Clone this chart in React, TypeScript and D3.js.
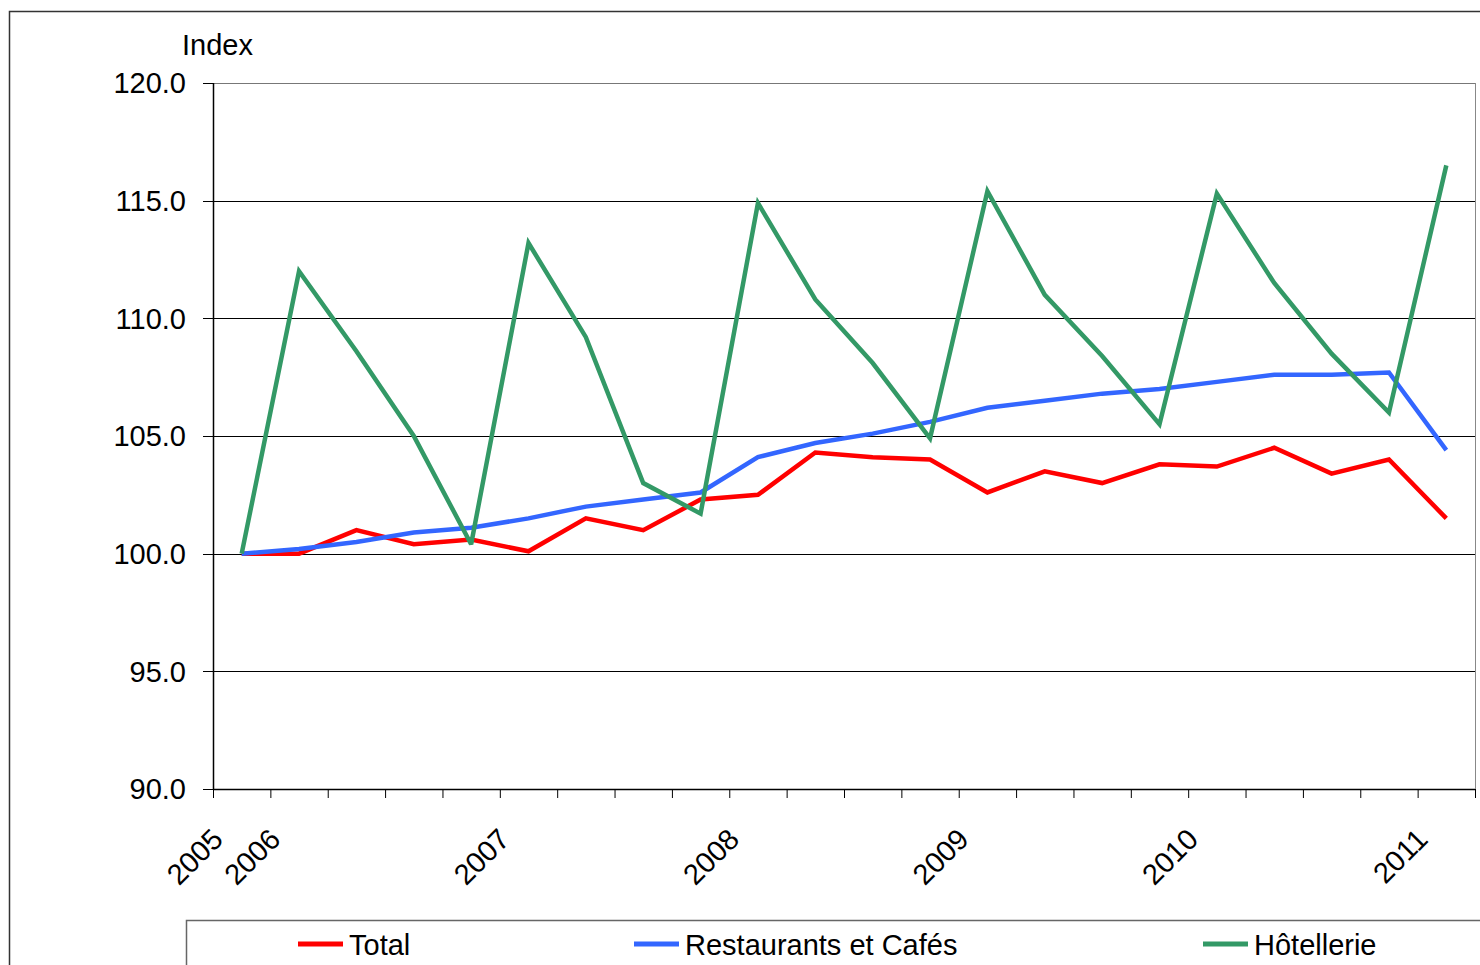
import React from "react";
import * as d3 from "d3";

const categories = ["2005", "2006", "", "", "", "2007", "", "", "", "2008", "", "", "", "2009", "", "", "", "2010", "", "", "", "2011"];
const totalValues = [100.0, 100.0, 101.0, 100.4, 100.6, 100.1, 101.5, 101.0, 102.3, 102.5, 104.3, 104.1, 104.0, 102.6, 103.5, 103.0, 103.8, 103.7, 104.5, 103.4, 104.0, 101.5];
const restaurantValues = [100.0, 100.2, 100.5, 100.9, 101.1, 101.5, 102.0, 102.3, 102.6, 104.1, 104.7, 105.1, 105.6, 106.2, 106.5, 106.8, 107.0, 107.3, 107.6, 107.6, 107.7, 104.4];
const hotelValues = [100.0, 112.0, 108.6, 105.0, 100.4, 113.2, 109.2, 103.0, 101.7, 114.9, 110.8, 108.1, 104.9, 115.4, 111.0, 108.4, 105.5, 115.3, 111.5, 108.5, 106.0, 116.5];
const yTicks = [90, 95, 100, 105, 110, 115, 120];
const seriesNames = ["Total", "Restaurants et Cafés", "Hôtellerie"];
const seriesColors = ["#FF0000", "#3366FF", "#339966"];

const FONT = "'Liberation Sans', Arial, sans-serif";

export default function App() {
  const W = 1480, H = 965;
  const left = 213, right = 1475, top = 83, bottom = 789;
  const idx = categories.map((_, i) => i);
  const x = d3.scaleBand<number>().domain(idx).range([left, right]).paddingInner(0).paddingOuter(0);
  const y = d3.scaleLinear().domain([90, 120]).range([bottom, top]);
  const cx = (i: number) => (x(i) as number) + x.bandwidth() / 2;
  const line = d3.line<number>().x((_, i) => cx(i)).y((d) => y(d));
  const series = [totalValues, restaurantValues, hotelValues];
  const boundaries = d3.range(categories.length + 1).map((i) => left + i * x.bandwidth());
  const legendX = [298, 634, 1203];

  return (
    <svg width={W} height={H} style={{ position: "absolute", left: 0, top: 0, background: "#fff" }} fontFamily={FONT}>
      <rect x={0} y={0} width={W} height={H} fill="#fff" />
      {/* outer frame */}
      <path d={`M9.5,${H + 5} V11.5 H${W + 5}`} fill="none" stroke="#333" strokeWidth={1.5} />
      {/* gridlines */}
      {yTicks.map((t) => (
        <line key={t} x1={left} x2={right} y1={Math.round(y(t)) + 0.5} y2={Math.round(y(t)) + 0.5} stroke={t === 120 ? "#777" : "#000"} strokeWidth={1} />
      ))}
      {/* right border */}
      <line x1={right + 0.5} x2={right + 0.5} y1={top} y2={bottom} stroke="#888" strokeWidth={1} />
      {/* y axis */}
      <line x1={left + 0.5} x2={left + 0.5} y1={top} y2={bottom + 1} stroke="#000" strokeWidth={1.5} />
      {yTicks.map((t) => (
        <g key={"yt" + t}>
          <line x1={left - 10} x2={left} y1={Math.round(y(t)) + 0.5} y2={Math.round(y(t)) + 0.5} stroke="#000" strokeWidth={1} />
          <text x={186} y={y(t)} dy="0.36em" textAnchor="end" fontSize={29} fill="#000">
            {t.toFixed(1)}
          </text>
        </g>
      ))}
      <text x={182} y={55} fontSize={29} fill="#000">Index</text>
      {/* x axis */}
      <line x1={left} x2={right} y1={bottom + 0.5} y2={bottom + 0.5} stroke="#000" strokeWidth={1.5} />
      {boundaries.map((b, i) => (
        <line key={"xt" + i} x1={b + 0.5} x2={b + 0.5} y1={bottom} y2={bottom + 9} stroke="#000" strokeWidth={1} />
      ))}
      {categories.map((c, i) =>
        c ? (
          <text key={"xl" + i} transform={`translate(${cx(i) - 17},841) rotate(-45)`} textAnchor="end" fontSize={29} fill="#000">
            {c}
          </text>
        ) : null
      )}
      {/* series */}
      {series.map((s, k) => (
        <path key={"s" + k} d={line(s) as string} fill="none" stroke={seriesColors[k]} strokeWidth={4.5} strokeLinejoin="miter" strokeMiterlimit={3} />
      ))}
      {/* legend */}
      <path d={`M186.5,${H + 5} V920.5 H${W + 5}`} fill="none" stroke="#666" strokeWidth={1.5} />
      {seriesNames.map((n, k) => (
        <g key={"lg" + k}>
          <line x1={legendX[k]} x2={legendX[k] + 45} y1={944} y2={944} stroke={seriesColors[k]} strokeWidth={5} />
          <text x={legendX[k] + 51} y={955} fontSize={29} fill="#000">{n}</text>
        </g>
      ))}
    </svg>
  );
}
